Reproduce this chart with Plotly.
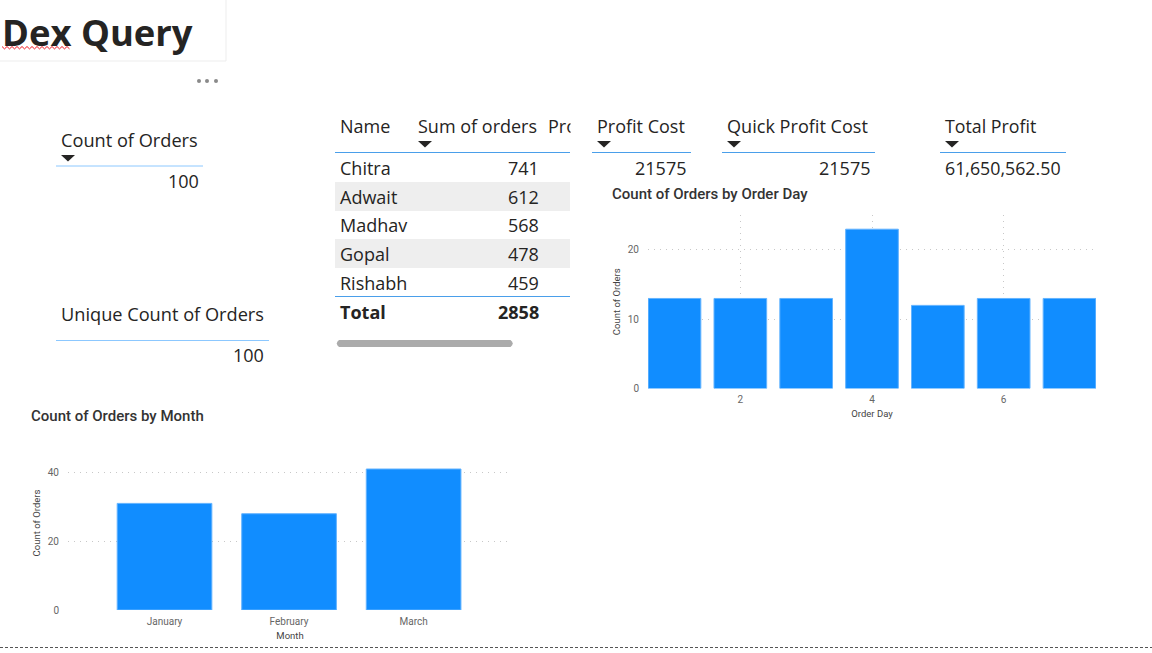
import plotly.graph_objects as go

W, H = 1152, 653

# ---- data ----
days = [1, 2, 3, 4, 5, 6, 7]
day_counts = [13, 13, 13, 23, 12, 13, 13]
months = ["January", "February", "March"]
month_counts = [31, 28, 41]
names = ["Chitra", "Adwait", "Madhav", "Gopal", "Rishabh"]
sum_orders = [741, 612, 568, 478, 459]
total_orders = 2858
count_orders = 100
unique_orders = 100
profit_cost = 21575
quick_profit_cost = 21575
total_profit = "61,650,562.50"

# ---- style ----
UI = "Open Sans"
HEAD = "Roboto"
INK = "#252423"
TICK = "#666666"
BAR = "#118DFF"
EDGE = "#63B3FF"
RULE = "#8CC8FF"
RULE2 = "#4A9FEA"
GRID = "#C8C8C8"


def X(p):
    return p / W


def Y(p):
    return 1 - p / H


annots, shapes = [], []


def text(x, y, s, size=18, anchor="left", color=INK, family=UI, weight=400):
    annots.append(dict(x=X(x), y=Y(y - 1), xref="paper", yref="paper", text=s, showarrow=False,
                       xanchor=anchor, yanchor="middle", borderpad=0, borderwidth=0,
                       font=dict(size=size, color=color, family=family, weight=weight)))


def line(x0, y0, x1, y1, color=RULE, width=1, dash="solid"):
    shapes.append(dict(type="line", xref="paper", yref="paper", x0=X(x0), y0=Y(y0), x1=X(x1), y1=Y(y1),
                       line=dict(color=color, width=width, dash=dash)))


def rect(x0, y0, x1, y1, color):
    shapes.append(dict(type="rect", xref="paper", yref="paper", x0=X(x0), y0=Y(y0), x1=X(x1), y1=Y(y1),
                       fillcolor=color, line=dict(width=0), layer="below"))


def path(points, fill=None, color=None, width=0):
    d = "M " + " L ".join(f"{X(a):.5f},{Y(b):.5f}" for a, b in points)
    if fill:
        d += " Z"
    shapes.append(dict(type="path", xref="paper", yref="paper", path=d,
                       fillcolor=fill if fill else "rgba(0,0,0,0)",
                       line=dict(width=width, color=color if color else "rgba(0,0,0,0)")))


def arrow(x, y):
    path([(x, y), (x + 14, y), (x + 7, y + 6.5)], fill="#252423")


# page title
line(226, 0, 226, 61, "#EDEDED")
line(0, 61, 226, 61, "#EDEDED")
text(2, 33, "Dex Query", size=36.4, weight=700, family="Open Sans")
path([(2 + i * 2.5, 46.5 + (i % 2) * 2.4) for i in range(28)], color="#F01820", width=1)
for cx in (199, 207, 216):
    shapes.append(dict(type="circle", xref="paper", yref="paper", x0=X(cx - 2), x1=X(cx + 2),
                       y0=Y(83), y1=Y(79), fillcolor="#8A8A8A", line=dict(width=0)))

# count cards
text(61, 141, "Count of Orders", size=18.2)
arrow(61, 155)
line(56, 166, 203, 166)
text(199, 182, str(count_orders), anchor="right")

text(61, 315, "Unique Count of Orders", size=18.2)
line(56, 340.5, 269, 340.5)
text(264, 356, str(unique_orders), anchor="right")

# table
text(340, 127, "Name")
text(418, 127, "Sum of orders")
text(548, 127, "Pro")
annots.append(dict(x=X(570), y=Y(126), xref="paper", yref="paper", text=" ", showarrow=False,
                   xanchor="left", yanchor="middle", width=14, height=24, bgcolor="white", borderpad=0))
arrow(418, 141)
line(335, 152.5, 570, 152.5, RULE2)
row_y = [168.5, 197.5, 226, 254.5, 283.5]
for i, (n, v) in enumerate(zip(names, sum_orders)):
    if i % 2:
        rect(335, row_y[i] - 15.5, 570, row_y[i] + 13.5, "#EEEEEE")
    text(340, row_y[i], n)
    text(538.5, row_y[i], str(v), anchor="right")
line(335, 296.5, 570, 296.5, RULE2)
text(340, 312.5, "Total", weight=700)
text(538.5, 312.5, str(total_orders), anchor="right", weight=700)
shapes.append(dict(type="path", xref="paper", yref="paper", fillcolor="#ABABAB", line=dict(width=0),
                   path=f"M {X(339):.5f},{Y(340):.5f} L {X(510.5):.5f},{Y(340):.5f} "
                        f"Q {X(515):.5f},{Y(343.5):.5f} {X(510.5):.5f},{Y(347):.5f} "
                        f"L {X(339):.5f},{Y(347):.5f} Q {X(334.5):.5f},{Y(343.5):.5f} {X(339):.5f},{Y(340):.5f} Z"))

# measure cards
text(597, 127, "Profit Cost")
arrow(597, 141)
line(592, 152.5, 691, 152.5, RULE2)
text(686, 169, str(profit_cost), anchor="right")

text(727, 127, "Quick Profit Cost", size=18.1)
arrow(727, 141)
line(722, 152.5, 875, 152.5, RULE2)
text(870, 169, str(quick_profit_cost), anchor="right")

text(945, 127, "Total Profit", size=17.8)
arrow(945, 141)
line(940, 152.5, 1066, 152.5, RULE2)
text(1061, 169, total_profit, anchor="right", size=17.8)

# chart titles
text(612, 195, "Count of Orders by Order Day", size=15, family=HEAD, weight=500, color="#333333")
text(31, 417, "Count of Orders by Month", size=15, family=HEAD, weight=500, color="#333333")

# bottom dashed rule
line(0, 647.5, 1152, 647.5, "#555555", 1, "3px,2px")

bar_line = dict(color=EDGE, width=1)
fig = go.Figure()
fig.add_trace(go.Bar(x=days, y=day_counts, width=0.8, marker=dict(color=BAR, line=bar_line),
                     xaxis="x", yaxis="y", showlegend=False))
fig.add_trace(go.Bar(x=months, y=month_counts, width=0.76, marker=dict(color=BAR, line=bar_line),
                     xaxis="x2", yaxis="y2", showlegend=False))

tickf = dict(size=10, color=TICK, family=HEAD)
titlef = dict(size=9.5, color="#444444", family=HEAD)
common = dict(griddash="1px,5px", gridcolor=GRID, gridwidth=1, zeroline=False, showline=False,
              tickcolor="rgba(0,0,0,0)", tickfont=tickf, automargin=False, ticks="outside")

fig.update_layout(
    width=W, height=H, margin=dict(l=0, r=0, t=0, b=0), autosize=False,
    paper_bgcolor="white", plot_bgcolor="white", showlegend=False,
    annotations=annots, shapes=shapes,
    xaxis=dict(domain=[X(648), X(1096)], anchor="y", range=[0.5975, 7.4025], tick0=2, dtick=2, showgrid=True,
               ticklen=1, title=dict(text="Order Day", font=titlef, standoff=6), **common),
    yaxis=dict(domain=[Y(388.5), Y(215)], anchor="x", range=[0, 25.05], tick0=0, dtick=10, showgrid=True,
               ticklen=6, title=dict(text="Count of Orders", font=titlef, standoff=5), **common),
    xaxis2=dict(domain=[X(68), X(512)], anchor="y2", type="category", range=[-0.775, 2.79], showgrid=False,
                ticklen=2, title=dict(text="Month", font=titlef, standoff=5.5), **common),
    yaxis2=dict(domain=[Y(610), Y(436)], anchor="x2", range=[0, 50.6], tick0=0, dtick=20, showgrid=True,
                ticklen=6, title=dict(text="Count of Orders", font=titlef, standoff=5), **common),
)

fig.write_html("out.html", post_script="document.body.style.margin='0';", config={"displayModeBar": False})
